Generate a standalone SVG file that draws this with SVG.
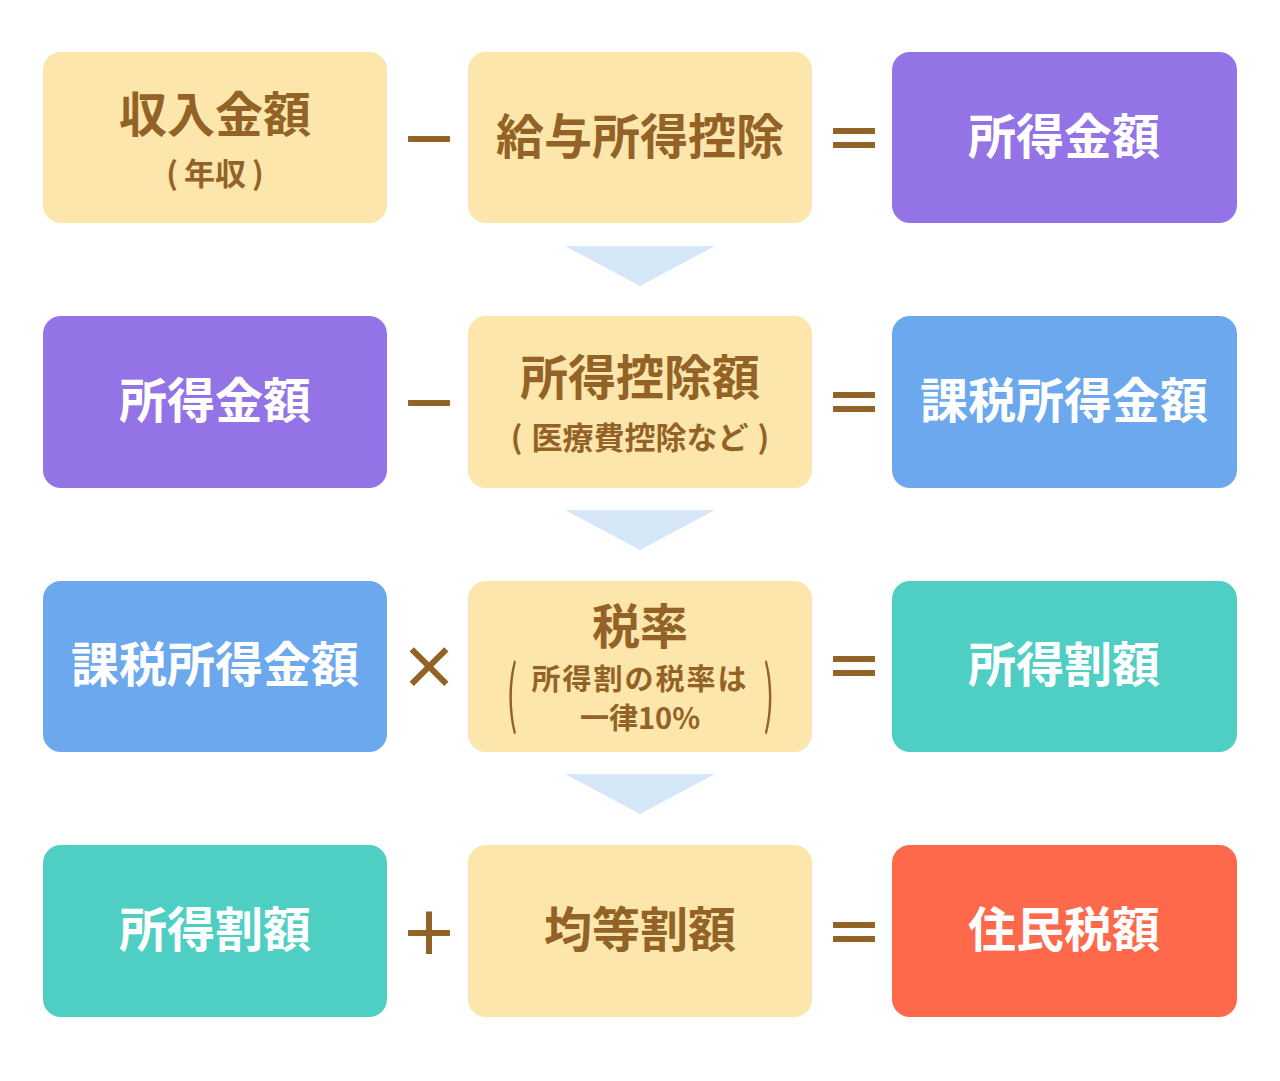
<svg xmlns="http://www.w3.org/2000/svg" width="1280" height="1081" viewBox="0 0 1280 1081">
<style>
.box{rx:18;ry:18}
.y{fill:#FCE6AC}
.p{fill:#9373E6}
.b{fill:#6CA8EE}
.t{fill:#4FCEC3}
.r{fill:#FF694B}
text{font-family:"Noto Sans CJK JP","Noto Sans CJK SC",sans-serif;font-weight:700;text-anchor:middle}
.m{font-size:48px}
.s{font-size:31px}
.s2{font-size:29px}
.w{fill:#FFFFFF}
.k{fill:#936226}
.op{fill:#936226;font-size:59px}
.arr{fill:#D6E7F8}
</style>
<rect width="1280" height="1081" fill="#FFFFFF"/>
<g id="connectors">
<polygon class="arr" points="565,246 715,246 640,286"/>
<polygon class="arr" points="565,510 715,510 640,550"/>
<polygon class="arr" points="565,774 715,774 640,814"/>
<text class="op" x="429" y="161">－</text>
<text class="op" x="854" y="161">＝</text>
<text class="op" x="429" y="425">－</text>
<text class="op" x="854" y="425">＝</text>
<text class="op" x="429" y="689">×</text>
<text class="op" x="854" y="689">＝</text>
<text class="op" x="429" y="955">＋</text>
<text class="op" x="854" y="955">＝</text>
</g>
<g id="n1"><rect class="box y" x="43" y="52" width="344" height="171"/><text class="m k" x="215" y="132">収入金額</text><text class="s k" x="215" y="185">(<tspan dx="6">年収</tspan><tspan dx="6">)</tspan></text></g>
<g id="n2"><rect class="box y" x="468" y="52" width="344" height="171"/><text class="m k" x="640" y="154">給与所得控除</text></g>
<g id="n3"><rect class="box p" x="892" y="52" width="345" height="171"/><text class="m w" x="1064" y="154">所得金額</text></g>
<g id="n4"><rect class="box p" x="43" y="316" width="344" height="172"/><text class="m w" x="215" y="418">所得金額</text></g>
<g id="n5"><rect class="box y" x="468" y="316" width="344" height="172"/><text class="m k" x="640" y="395">所得控除額</text><text class="s k" x="640" y="449">(<tspan dx="9">医療費控除など</tspan><tspan dx="9">)</tspan></text></g>
<g id="n6"><rect class="box b" x="892" y="316" width="345" height="172"/><text class="m w" x="1064" y="418">課税所得金額</text></g>
<g id="n7"><rect class="box b" x="43" y="581" width="344" height="171"/><text class="m w" x="215" y="682">課税所得金額</text></g>
<g id="n8"><rect class="box y" x="468" y="581" width="344" height="171"/><text class="m k" x="640" y="644">税率</text><text class="s2 k" x="640" y="690" style="letter-spacing:2px">所得割の税率は</text><text class="s2 k" x="640" y="729">一律10%</text><text class="k" style="font-weight:400;font-size:32px" transform="translate(512,720) scale(1,2.3)">(</text><text class="k" style="font-weight:400;font-size:32px" transform="translate(769,720) scale(1,2.3)">)</text></g>
<g id="n9"><rect class="box t" x="892" y="581" width="345" height="171"/><text class="m w" x="1064" y="682">所得割額</text></g>
<g id="n10"><rect class="box t" x="43" y="845" width="344" height="172"/><text class="m w" x="215" y="947">所得割額</text></g>
<g id="n11"><rect class="box y" x="468" y="845" width="344" height="172"/><text class="m k" x="640" y="947">均等割額</text></g>
<g id="n12"><rect class="box r" x="892" y="845" width="345" height="172"/><text class="m w" x="1064" y="947">住民税額</text></g>
</svg>
